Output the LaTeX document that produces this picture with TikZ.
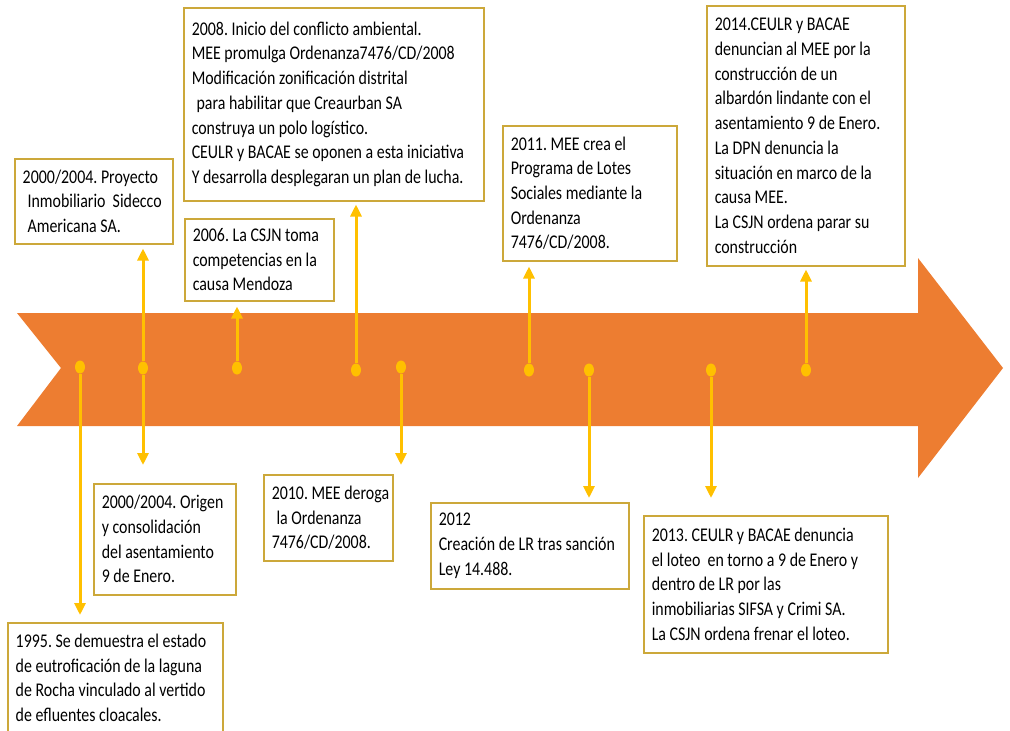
\documentclass[tikz,border=0pt]{standalone}
\usepackage{fontspec}
\setmainfont{Carlito}[FakeStretch=0.82]
\usetikzlibrary{arrows.meta,shapes.geometric}
\definecolor{naranja}{RGB}{237,125,49}
\definecolor{amarillo}{RGB}{255,192,0}
\definecolor{borde}{RGB}{204,168,58}

\begin{document}
\begin{tikzpicture}[x=1pt,y=-1pt,
    caja/.style={draw=borde,line width=1.5pt,fill=white,anchor=north west,
      align=flush left,inner xsep=8pt,inner ysep=0pt,
      font=\fontsize{19.4}{24.7}\selectfont\frenchspacing},
    punto/.style={ellipse,fill=amarillo,minimum width=10pt,minimum height=13pt,inner sep=0pt},
    conector/.style={amarillo,line width=3pt,-{Triangle[width=11pt,length=12pt]}}]

    \useasboundingbox (0,0) rectangle (1010,731);

    % Flecha del tiempo
    \fill[naranja] (17,313) -- (918,313) -- (918,258) -- (1003,368)
      -- (918,478) -- (918,426) -- (17,426) -- (61,368) -- cycle;

    % Cajas de arriba
    \node[caja,text width=142pt,minimum height=85pt] (cProyecto) at (14,158)
      {2000/2004. Proyecto\\\hspace*{0.25em}Inmobiliario\ \ Sidecco\\\hspace*{0.25em}Americana SA.};
    \node[caja,text width=133pt,minimum height=82pt] (c2006) at (184,218)
      {2006. La CSJN toma\\competencias en la\\causa Mendoza};
    \node[caja,text width=284pt,minimum height=193pt] (c2008) at (183,7)
      {2008. Inicio del conflicto ambiental.\\MEE promulga Ordenanza7476/CD/2008\\
       Modificación zonificación distrital\\\hspace*{0.25em}para habilitar que Creaurban SA\\
       construya un polo logístico.\\CEULR y BACAE se oponen a esta iniciativa\\
       Y desarrolla desplegaran un plan de lucha.};
    \node[caja,text width=158pt,minimum height=135pt] (c2011) at (502,125)
      {2011. MEE crea el\\Programa de Lotes\\Sociales mediante la\\Ordenanza\\7476/CD/2008.};
    \node[caja,text width=182pt,minimum height=260pt] (c2014) at (706,5)
      {2014.CEULR y BACAE\\denuncian al MEE por la\\construcción de un\\
       albardón lindante con el\\asentamiento 9 de Enero.\\La DPN denuncia la\\
       situación en marco de la\\causa MEE.\\La CSJN ordena parar su\\construcción};

    % Cajas de abajo
    \node[caja,text width=199pt,minimum height=110pt] (c1995) at (7,622)
      {1995. Se demuestra el estado\\de eutroficación de la laguna\\
       de Rocha vinculado al vertido\\de efluentes cloacales.};
    \node[caja,text width=126pt,minimum height=111pt] (cOrigen) at (93,483)
      {2000/2004. Origen\\y consolidación\\del asentamiento\\9 de Enero.};
    \node[caja,text width=113pt,minimum height=86pt] (c2010) at (263,474)
      {\mbox{2010. MEE deroga}\\\hspace*{0.25em}la Ordenanza\\7476/CD/2008.};
    \node[caja,text width=182pt,minimum height=86pt] (c2012) at (430,502)
      {2012\\Creación de LR tras sanción\\Ley 14.488.};
    \node[caja,text width=228pt,minimum height=137pt] (c2013) at (643,515)
      {2013. CEULR y BACAE denuncia\\el loteo\ \ en torno a 9 de Enero y\\
       dentro de LR por las\\inmobiliarias SIFSA y Crimi SA.\\La CSJN ordena frenar el loteo.};

    % Puntos
    \node[punto] (p1) at (80,367) {};
    \node[punto] (p2) at (143,368) {};
    \node[punto] (p3) at (237,368) {};
    \node[punto] (p4) at (356,370) {};
    \node[punto] (p5) at (401,367) {};
    \node[punto] (p6) at (529,370) {};
    \node[punto] (p7) at (589,370) {};
    \node[punto] (p8) at (711,370) {};
    \node[punto] (p9) at (806,370) {};

    % Conectores
    \draw[conector,shorten >=7pt] (p1) -- (p1 |- c1995.north);
    \draw[conector,shorten >=4pt] (p2) -- (p2 |- cProyecto.south);
    \draw[conector,shorten >=18pt] (p2) -- (p2 |- cOrigen.north);
    \draw[conector,shorten >=5pt] (p3) -- (p3 |- c2006.south);
    \draw[conector,shorten >=3pt] (p4) -- (p4 |- c2008.south);
    \draw[conector,shorten >=9pt] (p5) -- (p5 |- c2010.north);
    \draw[conector,shorten >=5pt] (p6) -- (p6 |- c2011.south);
    \draw[conector,shorten >=4pt] (p7) -- (p7 |- c2012.north);
    \draw[conector,shorten >=17pt] (p8) -- (p8 |- c2013.north);
    \draw[conector,shorten >=3pt] (p9) -- (p9 |- c2014.south);

\end{tikzpicture}
\end{document}
